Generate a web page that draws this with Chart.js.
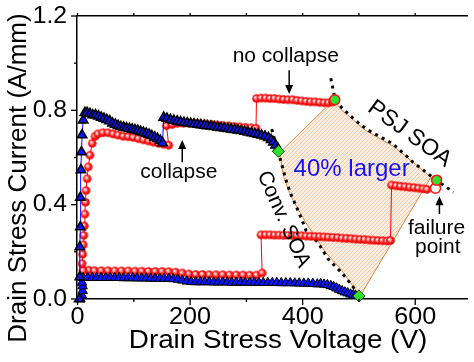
<!DOCTYPE html>
<html>
<head>
<meta charset="utf-8">
<script src="https://cdn.jsdelivr.net/npm/chart.js@4.4.1/dist/chart.umd.min.js"></script>
<style>
  html, body { margin: 0; padding: 0; background: #fff; }
</style>
</head>
<body>
<canvas id="soaChart" width="474" height="362"></canvas>
<script>
// values: drain stress voltage (V) and current (A/mm)

// axis ticks (labels only on every other one)
const xTicks = [0, 100, 200, 300, 400, 500, 600]
const xLabelled = [0, 200, 400, 600]
const yTicks = [0, 0.2, 0.4, 0.6, 0.8, 1.0, 1.2]
const yLabelled = [0, 0.4, 0.8, 1.2]

// red circles, upper branch (rise, collapse, no collapse)
const redUpV = [10, 8, 9, 10, 11, 12, 13, 14, 15, 17, 19, 22, 26, 31,
  36, 45, 54, 63, 72, 81, 90, 99, 108, 117, 126, 135, 144, 153, 162,
  158, 168, 178, 188, 198, 208, 218, 228, 238, 248, 258, 268, 278, 288, 298, 308, 317,
  318, 326, 334, 342, 350, 358, 366, 374, 382, 390, 398, 406, 414, 422, 430, 438, 446, 453]
const redUpI = [0.12, 0.15, 0.19, 0.23, 0.27, 0.31, 0.36, 0.41, 0.46, 0.51, 0.56, 0.61, 0.66, 0.69,
  0.70, 0.705, 0.705, 0.70, 0.695, 0.69, 0.688, 0.685, 0.68, 0.675, 0.67, 0.665, 0.66, 0.656, 0.652,
  0.735, 0.74, 0.745, 0.745, 0.745, 0.745, 0.743, 0.742, 0.74, 0.738, 0.736, 0.734, 0.732, 0.73, 0.728, 0.726, 0.724,
  0.85, 0.852, 0.852, 0.85, 0.85, 0.848, 0.846, 0.845, 0.845, 0.842, 0.84, 0.838, 0.836, 0.836, 0.834, 0.832, 0.832, 0.836]

// red circles, lower branch
const redLowV = [10, 20, 30,
  42, 54, 66, 78, 90, 102, 114, 126, 138, 150, 162, 174, 186, 198, 210, 222, 234, 246, 258, 270, 282, 294, 306, 318,
  328,
  326, 334, 342, 350, 358, 366, 374, 382, 390, 398, 406, 414, 422, 430, 438, 446, 454, 462, 470, 478, 486, 494, 502, 510, 518, 526, 534, 542, 550,
  556,
  558, 566, 574, 582, 590, 598, 606, 614, 621]
const redLowI = [0.122, 0.122, 0.12,
  0.12, 0.12, 0.119, 0.119, 0.119, 0.118, 0.118, 0.117, 0.117, 0.117, 0.116, 0.114, 0.11, 0.106, 0.104, 0.104, 0.103, 0.103, 0.103, 0.102, 0.102, 0.102, 0.101, 0.101,
  0.11,
  0.272, 0.272, 0.272, 0.271, 0.271, 0.27, 0.27, 0.269, 0.269, 0.268, 0.267, 0.266, 0.265, 0.264, 0.263, 0.262, 0.261, 0.26, 0.258, 0.257, 0.256, 0.254, 0.253, 0.252, 0.25, 0.249, 0.248, 0.247, 0.246,
  0.248,
  0.483, 0.48, 0.478, 0.476, 0.474, 0.472, 0.47, 0.467, 0.465]

// blue triangles, upper branch
const blueUpV = [3, 4, 4, 5, 5, 6, 7, 8, 10, 13,
  17, 22, 27, 32, 37, 42, 47, 52, 57, 62, 67, 72, 77, 82, 87, 92, 97, 102, 107, 112, 117, 122, 127, 132, 137, 142, 147, 151,
  153, 159, 165, 171, 177, 183, 189, 195, 201, 207, 213, 219, 225, 231, 237, 243, 249, 255, 261, 267, 273, 279, 285, 291,
  297, 303, 309, 315, 321, 327, 333, 339, 344, 348, 352, 356]
const blueUpI = [0.0, 0.093, 0.22, 0.305, 0.43, 0.547, 0.623, 0.695, 0.758, 0.79,
  0.79, 0.785, 0.78, 0.78, 0.775, 0.77, 0.765, 0.76, 0.755, 0.745, 0.74, 0.735, 0.73, 0.728, 0.725, 0.722, 0.72, 0.717, 0.714, 0.71, 0.706, 0.702, 0.698, 0.692, 0.686, 0.68, 0.672, 0.662,
  0.77, 0.765, 0.76, 0.757, 0.754, 0.751, 0.748, 0.746, 0.744, 0.742, 0.74, 0.738, 0.736, 0.734, 0.732, 0.73, 0.728, 0.726, 0.724, 0.722, 0.72, 0.718, 0.716, 0.713,
  0.71, 0.707, 0.704, 0.701, 0.698, 0.694, 0.69, 0.684, 0.675, 0.665, 0.652, 0.638]

// blue triangles, lower branch
const blueLowV = [5, 8, 9, 9, 8,
  10, 18, 26, 34, 42, 50, 58, 66, 74, 82, 90, 98, 106, 114, 122, 130, 138, 146, 154, 162, 170, 178, 186, 194,
  202, 210, 218, 226, 234, 242, 250, 258, 266, 274, 282, 290, 298, 306, 314, 322, 330, 338, 346, 354, 362, 370,
  378, 386, 394, 402, 410, 418, 426, 432, 438, 444, 450, 455, 460, 465, 470, 475, 480, 485, 490, 494]
const blueLowI = [0.0, 0.015, 0.035, 0.055, 0.07,
  0.09, 0.09, 0.09, 0.09, 0.09, 0.09, 0.09, 0.09, 0.09, 0.089, 0.089, 0.089, 0.088, 0.088, 0.088, 0.087, 0.087, 0.087, 0.086, 0.086, 0.085, 0.083, 0.079, 0.075,
  0.073, 0.072, 0.072, 0.072, 0.072, 0.071, 0.071, 0.071, 0.071, 0.07, 0.07, 0.07, 0.07, 0.07, 0.07, 0.07, 0.069, 0.069, 0.069, 0.069, 0.068, 0.068,
  0.068, 0.067, 0.067, 0.066, 0.066, 0.065, 0.063, 0.064, 0.062, 0.06, 0.056, 0.052, 0.046, 0.04, 0.034, 0.029, 0.025, 0.02, 0.017, 0.014]

// dotted SOA boundaries
const convSoaV = [345, 357, 364, 372, 380, 389, 398, 406, 416, 427, 445, 470, 490, 502]
const convSoaI = [0.72, 0.62, 0.56, 0.49, 0.44, 0.39, 0.34, 0.29, 0.265, 0.24, 0.17, 0.11, 0.05, 0.01]
const psjSoaV = [450, 458, 470, 488, 505, 522, 540, 559, 578, 598, 618, 637, 655, 668]
const psjSoaI = [0.936, 0.843, 0.81, 0.77, 0.735, 0.708, 0.685, 0.66, 0.62, 0.576, 0.54, 0.504, 0.475, 0.453]

// hatched "40% larger" region outline
const regionV = [359, 455, 470, 511, 563, 628, 502, 470, 440, 404, 378, 366, 359]
const regionI = [0.62, 0.843, 0.80, 0.716, 0.645, 0.517, 0.012, 0.12, 0.20, 0.33, 0.44, 0.52, 0.62]

// highlighted points
const diamondV = [357, 500]
const diamondI = [0.626, 0.013]
const greenDotV = [457, 638]
const greenDotI = [0.845, 0.504]
const failV = [636]
const failI = [0.47]

const FONT = '"Liberation Sans", Arial, sans-serif'

function pts(vs, is) {
    return vs.map((v, k) => ({x: v, y: is[k]}))
}

// shiny red ball marker like the original plot
function makeBall(r) {
    const c = document.createElement('canvas')
    const d = Math.ceil(r * 2) + 2
    c.width = d
    c.height = d
    const g = c.getContext('2d')
    const m = d / 2
    const grad = g.createRadialGradient(m - 1.3, m - 1.3, 0.2, m, m, r)
    grad.addColorStop(0, '#ffffff')
    grad.addColorStop(0.3, '#ff9a9a')
    grad.addColorStop(0.6, '#ff1a1a')
    grad.addColorStop(1, '#e00000')
    g.fillStyle = grad
    g.beginPath()
    g.arc(m, m, r, 0, Math.PI * 2)
    g.fill()
    return c
}

function hatchPattern() {
    const c = document.createElement('canvas')
    c.width = 4
    c.height = 4
    const g = c.getContext('2d')
    g.fillStyle = '#fdeee3'
    g.fillRect(0, 0, 4, 4)
    g.strokeStyle = '#f6caa8'
    g.lineWidth = 1
    g.beginPath()
    g.moveTo(0, 4)
    g.lineTo(4, 0)
    g.stroke()
    return g.createPattern(c, 'repeat')
}

const redBall = makeBall(4.3)

// annotations (data coordinates)
const notes = [
    {text: 'no collapse', v: 370, i: 1.03, size: 21, rot: 0, color: '#000'},
    {text: 'collapse', v: 180, i: 0.538, size: 21, rot: 0, color: '#000'},
    {text: '40% larger', v: 487, i: 0.551, size: 24, rot: 0, color: '#1414f0'},
    {text: 'Conv. SOA', v: 366, i: 0.338, size: 21, rot: 66, color: '#000'},
    {text: 'PSJ SOA', v: 590, i: 0.70, size: 23, rot: 36, color: '#000'},
    {text: 'failure', v: 638, i: 0.301, size: 21, rot: 0, color: '#000'},
    {text: 'point', v: 640, i: 0.218, size: 21, rot: 0, color: '#000'}
]
const arrows = [
    {v: 376, from: 0.97, to: 0.869},
    {v: 186, from: 0.58, to: 0.674},
    {v: 643, from: 0.36, to: 0.436}
]

function stretchedText(ctx, text, x, y, sx) {
    ctx.save()
    ctx.translate(x, y)
    ctx.scale(sx, 1)
    ctx.fillText(text, 0, 0)
    ctx.restore()
}

const decorPlugin = {
    id: 'decor',
    afterDraw(chart) {
        const {ctx, chartArea: a} = chart
        const x = chart.scales.x
        const y = chart.scales.y
        ctx.save()
        ctx.strokeStyle = '#000'
        ctx.lineWidth = 1.3
        // tick marks, long for labelled ticks
        xTicks.forEach(v => {
            const px = x.getPixelForValue(v)
            const len = xLabelled.includes(v) ? 6 : 3
            ctx.beginPath()
            ctx.moveTo(px, a.bottom)
            ctx.lineTo(px, a.bottom + len)
            ctx.moveTo(px, a.top)
            ctx.lineTo(px, a.top - 3)
            ctx.stroke()
        })
        yTicks.forEach(v => {
            const py = y.getPixelForValue(v)
            const len = yLabelled.includes(v) ? 6 : 3
            ctx.beginPath()
            ctx.moveTo(a.left - len, py)
            ctx.lineTo(a.left, py)
            ctx.stroke()
        })

        // tick labels
        ctx.fillStyle = '#000'
        ctx.textBaseline = 'middle'
        ctx.font = '24px ' + FONT
        ctx.textAlign = 'center'
        xLabelled.forEach(v => {
            stretchedText(ctx, String(v), x.getPixelForValue(v), a.bottom + 18, 1.05)
        })
        ctx.textAlign = 'right'
        yLabelled.forEach(v => {
            stretchedText(ctx, v.toFixed(1), a.left - 10, y.getPixelForValue(v), 1.03)
        })

        // axis titles
        ctx.textAlign = 'center'
        ctx.font = '26px ' + FONT
        stretchedText(ctx, 'Drain Stress Voltage (V)', 278, 341, 1.07)
        ctx.save()
        ctx.translate(19, 178)
        ctx.rotate(-Math.PI / 2)
        ctx.fillText('Drain Stress Current (A/mm)', 0, 0)
        ctx.restore()

        // text notes
        notes.forEach(n => {
            ctx.save()
            ctx.translate(x.getPixelForValue(n.v), y.getPixelForValue(n.i))
            ctx.rotate(n.rot * Math.PI / 180)
            ctx.font = n.size + 'px ' + FONT
            ctx.fillStyle = n.color
            ctx.fillText(n.text, 0, 0)
            ctx.restore()
        })

        // arrows
        ctx.fillStyle = '#000'
        ctx.lineWidth = 1.5
        arrows.forEach(ar => {
            const px = x.getPixelForValue(ar.v)
            const y0 = y.getPixelForValue(ar.from)
            const y1 = y.getPixelForValue(ar.to)
            const dir = y1 > y0 ? 1 : -1
            ctx.beginPath()
            ctx.moveTo(px, y0)
            ctx.lineTo(px, y1 - dir * 6)
            ctx.stroke()
            ctx.beginPath()
            ctx.moveTo(px, y1)
            ctx.lineTo(px - 4, y1 - dir * 9)
            ctx.lineTo(px + 4, y1 - dir * 9)
            ctx.closePath()
            ctx.fill()
        })
        ctx.restore()
    }
}

const config = {
    type: 'scatter',
    data: {
        datasets: [
            {
                label: 'diamonds', data: pts(diamondV, diamondI),
                pointStyle: 'rectRot', pointRadius: 6,
                backgroundColor: '#2fe02f', borderColor: '#0b5a0b', borderWidth: 1, clip: false
            },
            {
                label: 'green points', data: pts(greenDotV, greenDotI),
                pointStyle: 'circle', pointRadius: 5,
                backgroundColor: '#2fe02f', borderColor: '#ff1010', borderWidth: 1.5
            },
            {
                label: 'failure', data: pts(failV, failI),
                pointStyle: 'circle', pointRadius: 5,
                backgroundColor: '#ffffff', borderColor: '#ff1010', borderWidth: 1.5
            },
            {
                label: 'blue upper', data: pts(blueUpV, blueUpI), showLine: true,
                borderColor: '#0000ff', borderWidth: 1,
                pointStyle: 'triangle', pointRadius: 5.5,
                pointBackgroundColor: '#0a14ff', pointBorderColor: '#000', pointBorderWidth: 1.5, clip: false
            },
            {
                label: 'blue lower', data: pts(blueLowV, blueLowI), showLine: true,
                borderColor: '#0000ff', borderWidth: 1,
                pointStyle: 'triangle', pointRadius: 5.5,
                pointBackgroundColor: '#0a14ff', pointBorderColor: '#000', pointBorderWidth: 1, clip: false
            },
            {
                label: 'red upper', data: pts(redUpV, redUpI), showLine: true,
                borderColor: '#ff0000', borderWidth: 1,
                pointStyle: redBall, pointRadius: 4, clip: false
            },
            {
                label: 'red lower', data: pts(redLowV, redLowI), showLine: true,
                borderColor: '#ff0000', borderWidth: 1,
                pointStyle: redBall, pointRadius: 4, clip: false
            },
            {
                label: 'Conv. SOA', data: pts(convSoaV, convSoaI), showLine: true,
                borderColor: '#000', borderWidth: 3, borderDash: [3, 4.5], pointRadius: 0
            },
            {
                label: 'PSJ SOA', data: pts(psjSoaV, psjSoaI), showLine: true,
                borderColor: '#000', borderWidth: 3, borderDash: [3, 4.5], pointRadius: 0
            },
            {
                label: 'region', data: pts(regionV, regionI), showLine: true,
                fill: 'shape', backgroundColor: hatchPattern(),
                borderColor: '#dc843c', borderWidth: 1, pointRadius: 0
            }
        ]
    },
    options: {
        responsive: false,
        animation: false,
        devicePixelRatio: 1,
        layout: {padding: 0},
        plugins: {legend: {display: false}, tooltip: {enabled: false}},
        scales: {
            x: {
                type: 'linear', position: 'bottom', min: -1, max: 692,
                afterFit: s => { s.height = 63 },
                ticks: {display: false},
                grid: {drawOnChartArea: false, drawTicks: false},
                border: {color: '#000', width: 1.5}
            },
            x2: {
                type: 'linear', position: 'top', min: -1, max: 692,
                afterFit: s => { s.height = 16 },
                ticks: {display: false},
                grid: {drawOnChartArea: false, drawTicks: false},
                border: {color: '#000', width: 1.5}
            },
            y: {
                type: 'linear', position: 'left', min: 0, max: 1.2,
                afterFit: s => { s.width = 77 },
                ticks: {display: false},
                grid: {drawOnChartArea: false, drawTicks: false},
                border: {color: '#000', width: 1.5}
            }
        }
    },
    plugins: [decorPlugin]
}

const soaChart = new Chart(document.getElementById('soaChart'), config)
</script>
</body>
</html>
